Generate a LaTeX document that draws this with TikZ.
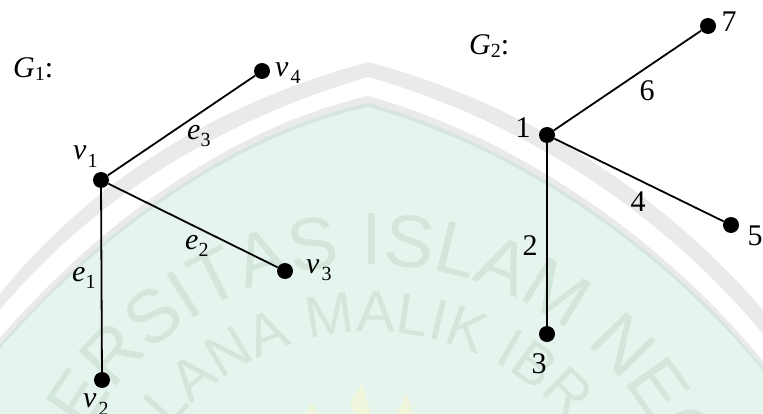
\documentclass[tikz,border=0pt]{standalone}
\usepackage{fontspec}
\setmainfont{Liberation Serif}
\newfontfamily\wmfont{Liberation Sans}
\usetikzlibrary{decorations.text}
\definecolor{bandgray}{HTML}{EAEAEA}
\definecolor{sealgreen}{HTML}{E5F4ED}
\definecolor{sealedge}{HTML}{D6E6DE}
\definecolor{wmgreen}{HTML}{D4E5DC}
\definecolor{sealyellow}{HTML}{EFF6DC}
\newcommand{\subdig}[2][7]{\raisebox{-#1pt}{\fontsize{20}{20}\selectfont #2}}
\tikzset{
  vertex/.style={circle,fill=black,draw=none,minimum size=16pt,inner sep=0pt},
  edgeline/.style={line width=1.8pt,black},
  lab/.style={inner sep=0pt,font=\fontsize{30}{32}\selectfont,anchor=base west},
  num/.style={inner sep=0pt,font=\fontsize{30}{32}\selectfont,anchor=base},
  wmouter/.style={decorate,decoration={text along path,text align=center,
    text={|\wmfont\fontsize{74}{76}\selectfont\color{wmgreen}|#1}}},
  wminner/.style={decorate,decoration={text along path,text align=center,
    text={|\wmfont\fontsize{58}{60}\selectfont\color{wmgreen}|#1}}}
}
\begin{document}
\begin{tikzpicture}[x=1pt,y=-1pt]
\useasboundingbox (0,0) rectangle (763,414);
\begin{scope}
\clip (0,0) rectangle (763,414);
% seal background
\fill[bandgray] (368,62) .. controls (230,100) and (100,170) .. (-2,296) -- (-2,312)
   .. controls (100,190) and (230,118) .. (368,77)
   .. controls (520,120) and (660,210) .. (765,336) -- (765,312)
   .. controls (660,190) and (520,102) .. (368,62) -- cycle;
\fill[bandgray] (368,96) .. controls (230,128) and (100,222) .. (-2,340) -- (-2,414) -- (765,414) -- (765,364)
   .. controls (670,245) and (520,138) .. (368,96) -- cycle;
\fill[sealedge] (368,103) .. controls (230,134) and (100,230) .. (-2,347) -- (-2,414) -- (765,414) -- (765,370)
   .. controls (670,251) and (520,145) .. (368,103) -- cycle;
\fill[sealgreen] (368,107) .. controls (230,138) and (100,234) .. (-2,351) -- (-2,414) -- (765,414) -- (765,374)
   .. controls (670,255) and (520,149) .. (368,107) -- cycle;
\path[wmouter={ERSITAS ISLAM NEG}] (372,592) ++(-186:327) arc[start angle=-186,end angle=14,radius=327];
\path[wminner={LANA MALIK IBR}] (372,592) ++(-191:260) arc[start angle=-191,end angle=9,radius=260];
\fill[sealyellow] (362,383) -- (350,403) -- (354,414) -- (371,414) -- cycle;
\fill[sealyellow] (406,394) -- (397,414) -- (414,414) -- cycle;
\fill[sealyellow] (312,402) -- (305,414) -- (318,414) -- cycle;
\end{scope}
% graph G1
\node[vertex] (a1) at (101,180) {};
\node[vertex] (a2) at (102,380) {};
\node[vertex] (a3) at (285,271) {};
\node[vertex] (a4) at (262,71) {};
\draw[edgeline] (a1) -- (a2);
\draw[edgeline] (a1) -- (a3);
\draw[edgeline] (a1) -- (a4);
\node[lab] (g1) at (13,78) {\textit{G}\subdig[3]{1}:};
\node[lab] (l1) at (73,160) {\textit{v}\kern1pt\subdig[8]{1}};
\node[lab] (l2) at (83,407) {\textit{v}\kern2pt\subdig[8]{2}};
\node[lab] (l3) at (306,273) {\textit{v}\kern2pt\subdig{3}};
\node[lab] (l4) at (275,77) {\textit{v}\kern2pt\subdig{4}};
\node[lab] (e1) at (72,281) {\textit{e}\subdig{1}};
\node[lab] (e2) at (185,249) {\textit{e}\subdig{2}};
\node[lab] (e3) at (187,140) {\textit{e}\subdig{3}};
% graph G2
\node[vertex] (b1) at (547,135) {};
\node[vertex] (b3) at (547,334) {};
\node[vertex] (b5) at (731,225) {};
\node[vertex] (b7) at (708,26) {};
\draw[edgeline] (b1) -- (b3);
\draw[edgeline] (b1) -- (b5);
\draw[edgeline] (b1) -- (b7);
\node[lab] (g2) at (469,55) {\textit{G}\subdig[3]{2}:};
\node[num] (n1) at (523,138) {1};
\node[num] (n2) at (530,255) {2};
\node[num] (n3) at (539,373) {3};
\node[num] (n4) at (638,212) {4};
\node[num] (n5) at (755,245) {5};
\node[num] (n6) at (647,101) {6};
\node[num] (n7) at (729,32) {7};
\end{tikzpicture}
\end{document}
